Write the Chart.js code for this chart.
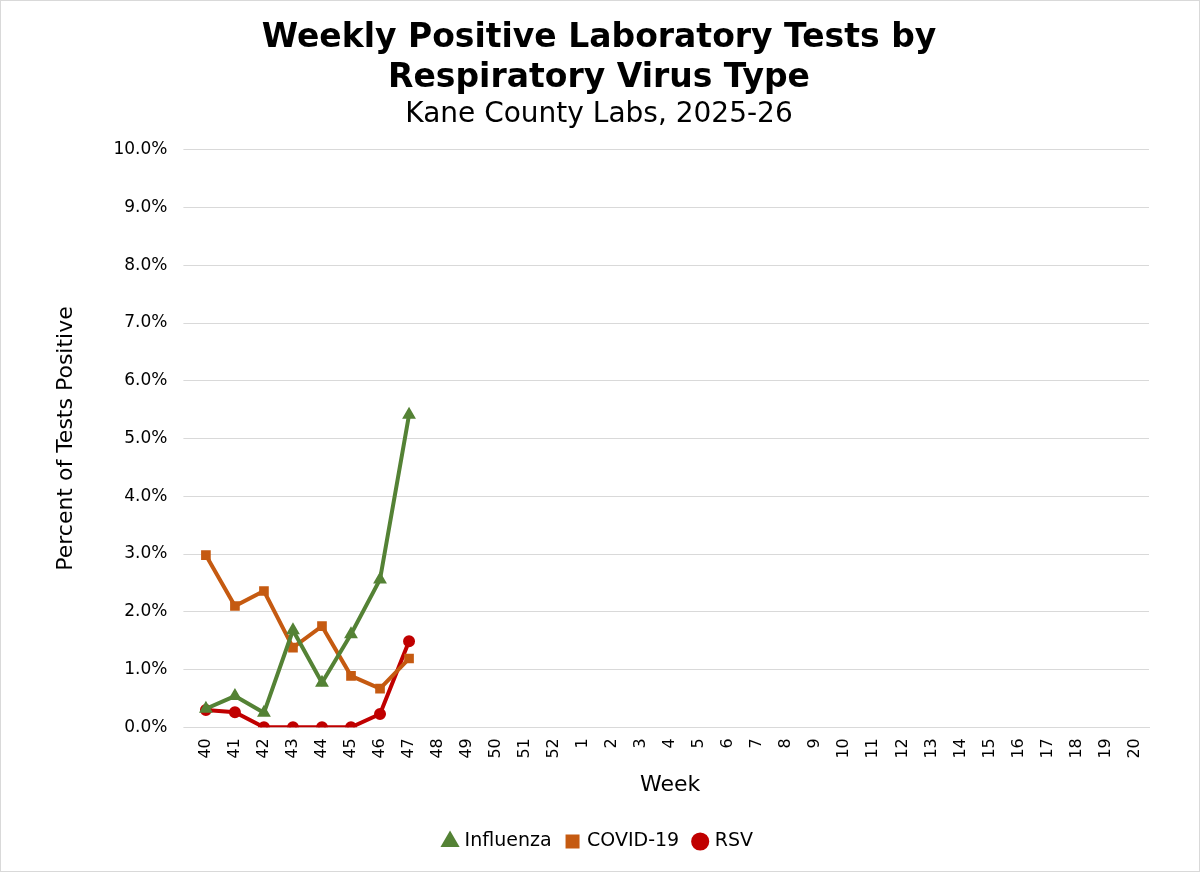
<!doctype html>
<html>
<head>
	<title>Weekly Positive Laboratory Tests</title>
	<script src="https://cdn.jsdelivr.net/npm/chart.js@4/dist/chart.umd.min.js"></script>
	<style>
		body { margin: 0; background: #fff; }
		#wrap { width: 1198px; height: 870px; border: 1px solid #d9d9d9; }
	</style>
</head>
<body>
	<div id="wrap"><canvas id="canvas" width="1198" height="870"></canvas></div>
	<script>
		var weeks = ['40','41','42','43','44','45','46','47','48','49','50','51','52','1','2','3','4','5','6','7','8','9','10','11','12','13','14','15','16','17','18','19','20'];
		var influenza = [0.32, 0.54, 0.25, 1.68, 0.77, 1.61, 2.56, 5.41];
		var covid = [2.98, 2.10, 2.36, 1.38, 1.75, 0.89, 0.67, 1.19];
		var rsv = [0.30, 0.26, 0.0, 0.0, 0.0, 0.0, 0.23, 1.49];

		var font = '"DejaVu Sans", Verdana, sans-serif';

		function series(label, data, color, style) {
			return {
				label: label, data: data, borderColor: color, backgroundColor: color,
				borderWidth: 4, pointStyle: style, pointRadius: 4, pointHoverRadius: 4,
				tension: 0
			};
		}

		new Chart(document.getElementById('canvas'), {
			type: 'line',
			data: {
				labels: weeks,
				datasets: [
					series('Influenza', influenza, '#548235', 'triangle'),
					series('COVID-19', covid, '#c55a11', 'rect'),
					series('RSV', rsv, '#c00000', 'circle')
				]
			},
			options: {
				responsive: false,
				animation: false,
				layout: { padding: { left: 48, right: 50, top: 10, bottom: 10 } },
				plugins: {
					title: {
						display: true,
						text: ['Weekly Positive Laboratory Tests by', 'Respiratory Virus Type'],
						color: '#000',
						font: { family: font, size: 33, weight: 'bold', lineHeight: 1.2 },
						padding: { top: 8, bottom: 0 }
					},
					subtitle: {
						display: true,
						text: 'Kane County Labs, 2025-26',
						color: '#000',
						font: { family: font, size: 28 },
						padding: { top: 0, bottom: 18 }
					},
					legend: {
						position: 'bottom',
						labels: {
							usePointStyle: true, color: '#000', boxWidth: 10, boxHeight: 10,
							font: { family: font, size: 19 }, padding: 16
						}
					},
					tooltip: { enabled: false }
				},
				scales: {
					x: {
						offset: true,
						title: { display: true, text: 'Week', color: '#000', font: { family: font, size: 22 }, padding: { top: 10, bottom: 18 } },
						grid: { display: false },
						border: { color: '#d9d9d9' },
						ticks: { color: '#000', font: { family: font, size: 16 }, maxRotation: 90, minRotation: 90, autoSkip: false }
					},
					y: {
						min: 0, max: 10,
						title: { display: true, text: 'Percent of Tests Positive', color: '#000', font: { family: font, size: 22 }, padding: { bottom: 18 } },
						grid: { color: '#d9d9d9' },
						border: { display: false },
						ticks: { stepSize: 1, color: '#000', font: { family: font, size: 17 }, padding: 16,
							callback: function(v) { return v.toFixed(1) + '%'; } }
					}
				}
			}
		});
	</script>
</body>
</html>
